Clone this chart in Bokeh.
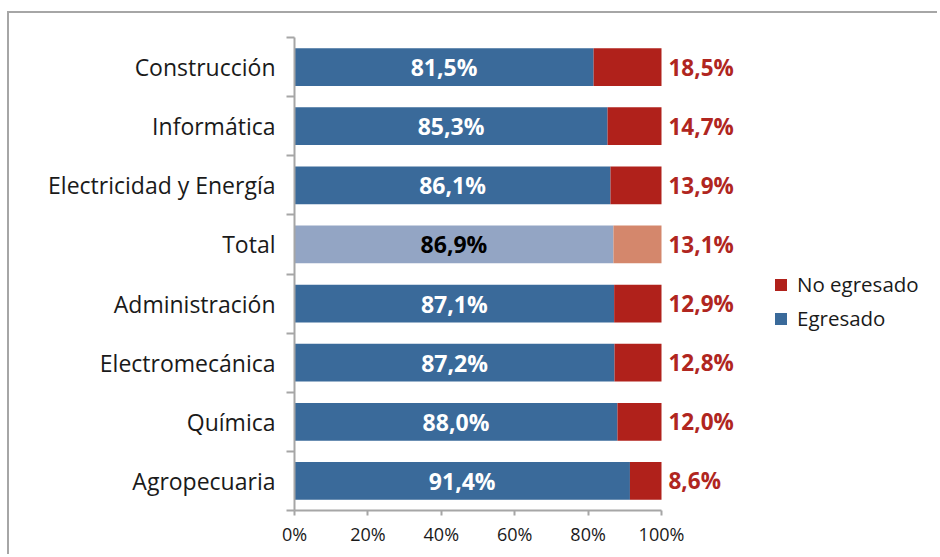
from bokeh.plotting import figure
from bokeh.models import (ColumnDataSource, Range1d, FixedTicker, PrintfTickFormatter,
                          Legend, LegendItem)
from bokeh.core.properties import value
from bokeh.embed import file_html
from bokeh.resources import INLINE

# ---- data (bottom to top) ----
categories = ["Agropecuaria", "Química", "Electromecánica", "Administración",
              "Total", "Electricidad y Energía", "Informática", "Construcción"]
egresado = [91.4, 88.0, 87.2, 87.1, 86.9, 86.1, 85.3, 81.5]
no_egresado = [8.6, 12.0, 12.8, 12.9, 13.1, 13.9, 14.7, 18.5]
x_ticks = [0, 20, 40, 60, 80, 100]
series_names = ["No egresado", "Egresado"]

DARK_BLUE = "#3A6A9A"
DARK_RED = "#B0211B"
LIGHT_BLUE = "#93A5C4"
LIGHT_RED = "#D4876C"
LABEL_RED = "#B0261F"
AXIS_GRAY = "#A6A6A6"
FONT = "Open Sans"

n = len(categories)
ypos = [i + 0.5 for i in range(n)]


def fmt(v):
    return f"{v:.1f}%".replace(".", ",")


src = ColumnDataSource(dict(
    y=ypos,
    eg=egresado,
    total=[a + b for a, b in zip(egresado, no_egresado)],
    mid=[a / 2 for a in egresado],
    eg_color=[LIGHT_BLUE if c == "Total" else DARK_BLUE for c in categories],
    no_color=[LIGHT_RED if c == "Total" else DARK_RED for c in categories],
    inner_color=["#000000" if c == "Total" else "#FFFFFF" for c in categories],
    eg_label=[fmt(v) for v in egresado],
    no_label=[fmt(v) for v in no_egresado],
))

W, H = 930, 543
LEFT, RIGHT = 285, 2
frame_w = W - LEFT - RIGHT
bar_px = 367.0
x_end = 100 * frame_w / bar_px

p = figure(width=W, height=H, x_range=Range1d(0, x_end), y_range=Range1d(0, n),
           output_backend="svg", toolbar_location=None,
           min_border_left=LEFT, min_border_right=RIGHT,
           min_border_top=24, min_border_bottom=46)
# outer chart frame (only top and left edges are inside the window)
p.styles = {"border-top": "2px solid #A6A6A6", "border-left": "2px solid #A6A6A6",
            "margin-top": "11px", "margin-left": "7px"}

r_eg = p.hbar(y="y", left=0, right="eg", height=0.64, fill_color="eg_color",
              line_color=None, source=src)
r_no = p.hbar(y="y", left="eg", right="total", height=0.64, fill_color="no_color",
              line_color=None, source=src)

p.text(x="mid", y="y", text="eg_label", text_align="center", text_baseline="middle",
       text_font=value(FONT), text_font_style="bold", text_font_size="23px",
       text_color="inner_color", source=src)
p.text(x="total", y="y", x_offset=7, text="no_label", text_align="left",
       text_baseline="middle", text_font=value(FONT), text_font_style="bold",
       text_font_size="22.5px", text_color=LABEL_RED, source=src)

legend = Legend(items=[LegendItem(label=series_names[0], renderers=[r_no], index=0),
                       LegendItem(label=series_names[1], renderers=[r_eg], index=0)],
                location=(479, 178), glyph_width=15, glyph_height=15,
                label_text_font=FONT, label_text_font_size="20.5px",
                label_text_color="#1a1a1a", label_standoff=9, spacing=6,
                label_height=20, padding=0, margin=0,
                border_line_color=None, background_fill_alpha=0)
p.add_layout(legend)

# x axis
p.xaxis.ticker = FixedTicker(ticks=x_ticks)
p.xaxis.formatter = PrintfTickFormatter(format="%d%%")
p.xaxis.bounds = (0, 100)
p.xaxis.major_tick_in = 0
p.xaxis.major_tick_out = 5
p.xaxis.minor_tick_line_color = None
p.xaxis.axis_line_color = AXIS_GRAY
p.xaxis.axis_line_width = 2
p.xaxis.major_tick_line_color = AXIS_GRAY
p.xaxis.major_tick_line_width = 2
p.xaxis.major_label_text_font = FONT
p.xaxis.major_label_text_font_size = "18px"
p.xaxis.major_label_text_color = "#1a1a1a"
p.xaxis.major_label_standoff = 6

# y axis
p.yaxis.ticker = FixedTicker(ticks=ypos, minor_ticks=list(range(n + 1)))
p.yaxis.major_label_overrides = {y: c for y, c in zip(ypos, categories)}
p.yaxis.major_tick_line_color = None
p.yaxis.major_tick_in = 0
p.yaxis.major_tick_out = 0
p.yaxis.minor_tick_line_color = AXIS_GRAY
p.yaxis.minor_tick_line_width = 2
p.yaxis.minor_tick_in = 0
p.yaxis.minor_tick_out = 8
p.yaxis.axis_line_color = AXIS_GRAY
p.yaxis.axis_line_width = 2
p.yaxis.major_label_text_font = FONT
p.yaxis.major_label_text_font_size = "23px"
p.yaxis.major_label_text_color = "#1a1a1a"
p.yaxis.major_label_standoff = 11

p.xgrid.visible = False
p.ygrid.visible = False
p.outline_line_color = None

open("out.html", "w").write(file_html(p, INLINE))
